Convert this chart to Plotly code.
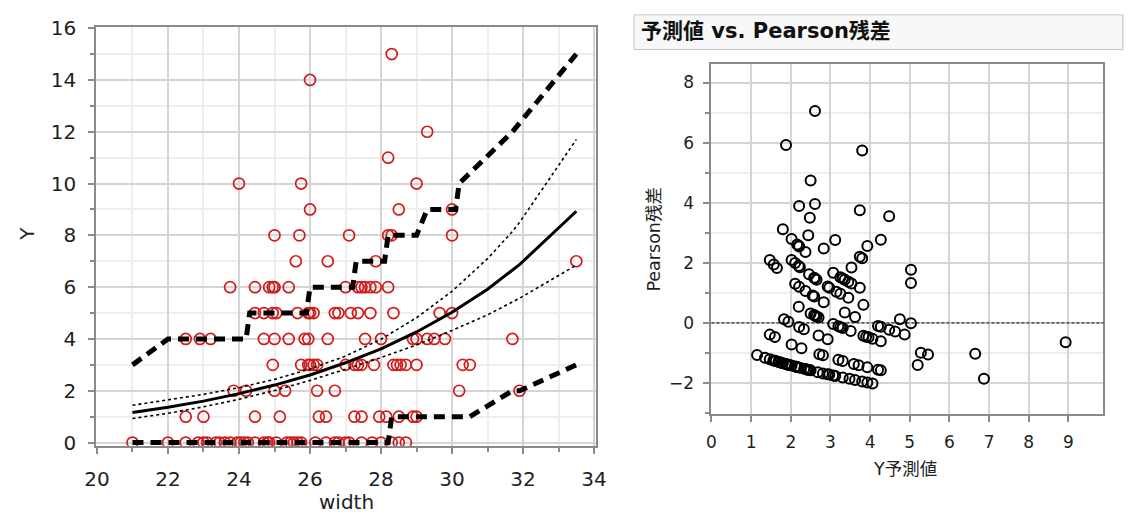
import plotly.graph_objects as go

W, H = 1130, 522

# ---- observed crabs: carapace width and satellite count ----
crab_width = [
    21.0, 22.0, 22.5, 22.85, 23.0, 23.1, 23.35, 23.45, 23.6, 23.75, 23.95, 24.05,
    24.15, 24.25, 24.45, 24.7, 24.8, 24.85, 25.05, 25.35, 25.45, 25.55, 25.65, 25.75,
    26.15, 26.45, 26.7, 26.8, 27.0, 27.1, 27.45, 27.75, 28.0, 28.3, 28.5, 28.7,
    22.5, 23.0, 24.45, 25.15, 26.25, 26.45, 27.25, 27.45, 27.95, 28.15, 28.5, 28.9, 29.0,
    23.85, 24.2, 25.0, 25.3, 26.2, 26.7, 30.2, 31.9,
    24.95, 25.75, 25.95, 26.0, 26.1, 26.2, 27.0, 27.25, 27.35, 27.45, 27.8, 28.35,
    28.45, 28.55, 28.7, 29.0, 30.3, 30.5,
    22.5, 22.9, 23.2, 24.7, 25.0, 25.4, 25.85, 25.95, 26.5, 27.55, 28.0, 28.9, 29.0,
    29.3, 29.5, 29.8, 31.7,
    24.45, 24.7, 24.95, 25.05, 25.65, 25.95, 26.0, 26.1, 26.7, 26.8, 27.15, 27.35,
    27.7, 28.35, 29.65, 30.0,
    23.75, 24.45, 24.85, 24.95, 25.0, 25.4, 27.0, 27.35, 27.45, 27.55, 27.7, 27.85, 28.2,
    25.6, 26.5, 27.85, 33.5,
    25.0, 25.7, 27.1, 28.2, 28.3, 30.0,
    26.0, 28.5, 30.0,
    24.0, 25.75, 29.0,
    28.2, 29.3, 26.0, 28.3,
]
crab_sat = (
    [0] * 36 + [1] * 13 + [2] * 8 + [3] * 18 + [4] * 17 + [5] * 16 + [6] * 13
    + [7] * 4 + [8] * 6 + [9] * 3 + [10] * 3 + [11, 12, 14, 15]
)

# ---- fitted mean and its confidence band ----
fit_width = [21, 22, 23, 24, 25, 26, 27, 28, 29, 30, 31, 31.7, 31.9, 33.5]
fit_mean = [1.16, 1.36, 1.60, 1.89, 2.22, 2.61, 3.08, 3.62, 4.27, 5.03, 5.92, 6.65, 6.87, 8.93]
ci_lower = [0.93, 1.13, 1.38, 1.67, 2.01, 2.40, 2.83, 3.28, 3.77, 4.33, 4.93, 5.42, 5.57, 6.85]
ci_upper = [1.44, 1.64, 1.86, 2.12, 2.44, 2.84, 3.34, 3.99, 4.82, 5.84, 7.10, 8.15, 8.50, 11.7]

# ---- prediction limits ----
pi_up_width = [21, 22, 24.2, 24.3, 25.9, 26.0, 27.2, 27.3, 28.1, 28.2, 29.0, 29.3, 30.1, 30.2, 31.7, 33.5]
pi_up_value = [3, 4, 4, 5, 5, 6, 6, 7, 7, 8, 8, 9, 9, 10, 12, 15]
pi_lo_width = [21, 28.2, 28.3, 30.5, 31.7, 31.9, 33.5]
pi_lo_value = [0, 0, 1, 1, 2, 2, 3]

# ---- predicted values vs Pearson residuals ----
fitted_y = [
    1.15, 1.35, 1.47, 1.56, 1.60, 1.62, 1.69, 1.72, 1.76, 1.80, 1.87, 1.90,
    1.93, 1.96, 2.02, 2.11, 2.14, 2.16, 2.23, 2.34, 2.39, 2.42, 2.46, 2.50,
    2.68, 2.81, 2.93, 2.97, 3.07, 3.12, 3.31, 3.48, 3.62, 3.80, 3.93, 4.06,
    1.47, 1.60, 2.02, 2.27, 2.72, 2.81, 3.20, 3.31, 3.59, 3.71, 3.93, 4.20, 4.27,
    1.83, 1.94, 2.21, 2.33, 2.70, 2.93, 5.20, 6.87,
    2.20, 2.50, 2.59, 2.61, 2.65, 2.70, 3.07, 3.20, 3.25, 3.31, 3.51, 3.83,
    3.90, 3.96, 4.06, 4.27, 5.28, 5.46,
    1.47, 1.57, 1.65, 2.11, 2.21, 2.37, 2.55, 2.59, 2.83, 3.36, 3.62, 4.20, 4.27,
    4.48, 4.63, 4.87, 6.65,
    2.02, 2.11, 2.20, 2.23, 2.46, 2.59, 2.61, 2.65, 2.93, 2.97, 3.15, 3.25,
    3.45, 3.83, 4.75, 5.03,
    1.80, 2.02, 2.16, 2.20, 2.21, 2.37, 3.07, 3.25, 3.31, 3.36, 3.45, 3.53, 3.74,
    2.44, 2.83, 3.53, 8.93,
    2.21, 2.48, 3.12, 3.74, 3.80, 5.03,
    2.61, 3.93, 5.03,
    1.88, 2.50, 4.27,
    3.74, 4.48, 2.61, 3.80,
]
pearson_resid = [
    -1.07, -1.16, -1.21, -1.25, -1.26, -1.27, -1.30, -1.31, -1.33, -1.34, -1.37, -1.38,
    -1.39, -1.40, -1.42, -1.45, -1.46, -1.47, -1.49, -1.53, -1.54, -1.56, -1.57, -1.58,
    -1.64, -1.68, -1.71, -1.72, -1.75, -1.77, -1.82, -1.86, -1.90, -1.95, -1.98, -2.02,
    -0.39, -0.47, -0.72, -0.84, -1.04, -1.08, -1.23, -1.27, -1.37, -1.41, -1.48, -1.56, -1.58,
    0.12, 0.04, -0.14, -0.21, -0.42, -0.54, -1.40, -1.86,
    0.54, 0.31, 0.26, 0.24, 0.21, 0.18, -0.04, -0.11, -0.14, -0.17, -0.27, -0.43,
    -0.46, -0.48, -0.53, -0.61, -0.99, -1.05,
    2.09, 1.94, 1.83, 1.30, 1.20, 1.06, 0.91, 0.88, 0.69, 0.35, 0.20, -0.10, -0.13,
    -0.23, -0.29, -0.39, -1.03,
    2.09, 1.99, 1.89, 1.85, 1.62, 1.50, 1.48, 1.44, 1.21, 1.17, 1.04, 0.97,
    0.84, 0.60, 0.12, -0.01,
    3.12, 2.79, 2.61, 2.57, 2.54, 2.36, 1.67, 1.52, 1.48, 1.44, 1.37, 1.31, 1.17,
    2.92, 2.48, 1.84, -0.64,
    3.89, 3.50, 2.76, 2.20, 2.15, 1.33,
    3.96, 2.56, 1.77,
    5.92, 4.74, 2.77,
    3.75, 3.55, 7.05, 5.74,
]

FONT = "DejaVu Sans, Noto Sans CJK JP, sans-serif"
AXIS_GRAY = "#8a8a8a"
GRID = "#d4d4d4"
GRID_MINOR = "#eeeeee"
TEXT = "#1e1e1e"


def px_x(p):
    return p / W


def px_y(p):
    return 1 - p / H


fig = go.Figure()

# left panel: observations, then fitted curve and limits
fig.add_trace(go.Scatter(
    x=crab_width, y=crab_sat, mode="markers", xaxis="x", yaxis="y",
    marker=dict(symbol="circle-open", size=11, color="#d21c1c", line=dict(width=1.7)),
    hoverinfo="skip",
))
fig.add_trace(go.Scatter(
    x=fit_width, y=ci_upper, mode="lines", xaxis="x", yaxis="y",
    line=dict(color="black", width=1.6, dash="3px,3px"),
))
fig.add_trace(go.Scatter(
    x=fit_width, y=ci_lower, mode="lines", xaxis="x", yaxis="y",
    line=dict(color="black", width=1.6, dash="3px,3px"),
))
fig.add_trace(go.Scatter(
    x=fit_width, y=fit_mean, mode="lines", xaxis="x", yaxis="y",
    line=dict(color="black", width=3),
))
fig.add_trace(go.Scatter(
    x=pi_up_width, y=pi_up_value, mode="lines", xaxis="x", yaxis="y",
    line=dict(color="black", width=5, dash="11px,7px"),
))
fig.add_trace(go.Scatter(
    x=pi_lo_width, y=pi_lo_value, mode="lines", xaxis="x", yaxis="y",
    line=dict(color="black", width=5, dash="11px,7px"),
))

# right panel: residual plot
fig.add_trace(go.Scatter(
    x=fitted_y, y=pearson_resid, mode="markers", xaxis="x2", yaxis="y2",
    marker=dict(symbol="circle-open", size=10, color="black", line=dict(width=2)),
))

common_axis = dict(
    showline=True, linecolor=AXIS_GRAY, linewidth=2, mirror=True,
    ticks="outside", tickcolor=AXIS_GRAY, tickwidth=1.5,
    showgrid=True, gridcolor=GRID, gridwidth=1.5, zeroline=False,
)

fig.update_layout(
    width=W, height=H, autosize=False,
    margin=dict(l=0, r=0, t=0, b=0),
    paper_bgcolor="white", plot_bgcolor="white",
    showlegend=False,
    font=dict(family=FONT, color=TEXT),
    xaxis=dict(
        domain=[px_x(86), px_x(596)], range=[19.98, 34.05], anchor="y",
        tick0=20, dtick=2, ticklen=6, ticklabelstandoff=8,
        tickfont=dict(size=20, color=TEXT),
        minor=dict(dtick=1, tick0=20, showgrid=True, gridcolor=GRID_MINOR,
                   ticks="outside", ticklen=4, tickcolor=AXIS_GRAY),
        **common_axis,
    ),
    yaxis=dict(
        domain=[px_y(452), px_y(17)], range=[-0.12, 16.03], anchor="x",
        tick0=0, dtick=2, ticklen=6, ticklabelstandoff=8,
        tickfont=dict(size=20, color=TEXT),
        minor=dict(dtick=1, tick0=0, showgrid=True, gridcolor=GRID_MINOR,
                   ticks="outside", ticklen=4, tickcolor=AXIS_GRAY),
        **common_axis,
    ),
    xaxis2=dict(
        domain=[px_x(714), px_x(1114)], range=[0, 9.88], anchor="y2",
        tick0=0, dtick=1, ticklen=6, ticklabelstandoff=6,
        tickfont=dict(size=17, color=TEXT),
        **common_axis,
    ),
    yaxis2=dict(
        domain=[px_y(419), px_y(55)], range=[-3.03, 8.62], anchor="x2",
        tick0=0, dtick=2, ticklen=6, ticklabelstandoff=6,
        tickfont=dict(size=17, color=TEXT),
        minor=dict(dtick=1, tick0=-3, showgrid=True, gridcolor=GRID_MINOR,
                   ticks="outside", ticklen=4, tickcolor=AXIS_GRAY),
        **common_axis,
    ),
)

# zero reference line in the residual plot
fig.add_shape(type="line", xref="x2 domain", yref="y2", x0=0, x1=1, y0=0, y1=0,
              line=dict(color="black", width=1, dash="3px,2px"))

# outline box behind the residual plot heading
fig.add_shape(type="rect", xref="paper", yref="paper",
              x0=px_x(635), x1=px_x(1134), y0=px_y(40), y1=px_y(4),
              fillcolor="#f8f8f8", line=dict(color="#c4c4c4", width=1), layer="below")

annotations = [
    dict(text="Y", x=px_x(15), y=px_y(232), textangle=-90, font=dict(size=20)),
    dict(text="width", x=px_x(341), y=px_y(511), font=dict(size=20)),
    dict(text="Pearson残差", x=px_x(655), y=px_y(237), textangle=-90, font=dict(size=17.5)),
    dict(text="Y予測値", x=px_x(912), y=px_y(476), font=dict(size=17.5)),
    dict(text="<b>予測値 vs. Pearson残差</b>", x=px_x(640), y=px_y(21),
         xanchor="left", font=dict(size=21, color="#111111")),
]
for a in annotations:
    a.setdefault("xanchor", "center")
    fig.add_annotation(xref="paper", yref="paper", yanchor="middle",
                       showarrow=False, **a)

fig.write_html("out.html")
